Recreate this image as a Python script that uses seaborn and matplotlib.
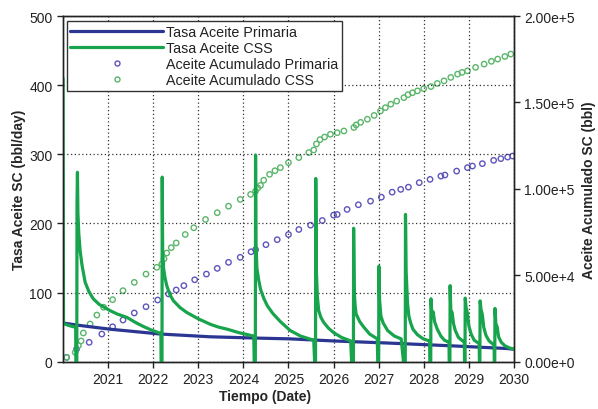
import numpy as np
import pandas as pd
import matplotlib
matplotlib.use("Agg")
import matplotlib.pyplot as plt
import matplotlib.ticker as ticker
from matplotlib.lines import Line2D
import seaborn as sns

# tasa de aceite, caso primario (bbl/day)
prim_t = [2020.0, 2020.3, 2021.04, 2022.16, 2023.27, 2024.38, 2025.04, 2026.0, 2027.2, 2028.6, 2029.86, 2030.0]
prim_q = [56, 53, 47, 40, 36, 34, 33, 30, 27, 23, 19, 18]

# tasa de aceite, caso CSS (bbl/day) -- un ciclo por linea
css_t = [2020.000, 2020.010, 2020.100, 2020.200, 2020.280, 2020.285, 2020.305, 2020.310, 2020.320,
         2020.330, 2020.350, 2020.380, 2020.420, 2020.490, 2020.570, 2020.670, 2020.800, 2021.040, 2021.200, 2021.420, 2021.600, 2021.780, 2021.950, 2022.120, 2022.170,
         2022.175, 2022.195, 2022.200, 2022.210, 2022.230, 2022.260, 2022.300, 2022.370, 2022.450, 2022.600, 2022.750, 2023.000, 2023.270, 2023.450, 2023.640, 2023.900, 2024.230,
         2024.240, 2024.265, 2024.270, 2024.280, 2024.300, 2024.340, 2024.380, 2024.450, 2024.530, 2024.650, 2024.820, 2025.040, 2025.270, 2025.560,
         2025.580, 2025.600, 2025.605, 2025.620, 2025.640, 2025.670, 2025.720, 2025.780, 2025.880, 2026.000, 2026.180, 2026.380,
         2026.400, 2026.440, 2026.445, 2026.460, 2026.480, 2026.500, 2026.580, 2026.670, 2026.800, 2026.970,
         2026.980, 2027.000, 2027.005, 2027.020, 2027.050, 2027.100, 2027.200, 2027.350, 2027.500,
         2027.550, 2027.590, 2027.595, 2027.610, 2027.640, 2027.670, 2027.710, 2027.760, 2027.860, 2027.990, 2028.130,
         2028.135, 2028.155, 2028.160, 2028.180, 2028.210, 2028.240, 2028.300, 2028.380, 2028.460, 2028.560,
         2028.565, 2028.580, 2028.585, 2028.600, 2028.630, 2028.660, 2028.700, 2028.770, 2028.900,
         2028.905, 2028.915, 2028.920, 2028.940, 2028.970, 2029.000, 2029.050, 2029.120, 2029.230,
         2029.235, 2029.245, 2029.250, 2029.270, 2029.300, 2029.330, 2029.380, 2029.450, 2029.560,
         2029.565, 2029.575, 2029.580, 2029.600, 2029.630, 2029.660, 2029.720, 2029.800, 2029.900, 2030.000]
css_q = [410, 55, 53, 51, 50, 0, 0, 230, 274,
         215, 185, 160, 140, 115, 102, 91, 83, 74, 69, 64, 57, 51, 46, 42, 41,
         0, 0, 267, 160, 135, 122, 110, 97, 88, 78, 71, 62, 54, 50, 47, 42, 37,
         0, 0, 299, 170, 135, 118, 105, 92, 81, 70, 58, 45, 37, 31,
         0, 0, 265, 130, 95, 74, 64, 57, 49, 42, 35, 30,
         0, 0, 193, 100, 80, 69, 58, 50, 40, 33,
         0, 0, 138, 90, 66, 56, 45, 37, 33,
         0, 0, 213, 130, 85, 66, 56, 47, 39, 33, 30,
         0, 0, 91, 69, 72, 58, 47, 37, 31, 28,
         0, 0, 110, 75, 71, 55, 45, 35, 28,
         0, 0, 92, 78, 70, 52, 40, 31, 26,
         0, 0, 88, 76, 68, 50, 38, 30, 24,
         0, 0, 77, 55, 50, 36, 28, 23, 20, 18]

# aceite acumulado, caso primario (bbl)
cum_prim_t = [2020.08, 2020.30, 2020.58, 2020.86, 2021.10, 2021.33, 2021.58, 2021.84, 2022.10, 2022.34,
              2022.51, 2022.68, 2022.92, 2023.18, 2023.42, 2023.67, 2023.93, 2024.17, 2024.27, 2024.50,
              2024.75, 2025.00, 2025.23, 2025.49, 2025.75, 2026.00, 2026.08, 2026.30, 2026.55, 2026.82,
              2027.06, 2027.30, 2027.49, 2027.66, 2027.90, 2028.14, 2028.38, 2028.47, 2028.73, 2028.97,
              2029.08, 2029.30, 2029.55, 2029.71, 2029.86, 2029.97]
cum_prim = [2.5e3, 7.3e3, 11.2e3, 16.0e3, 20.2e3, 24.1e3, 28.2e3, 31.8e3, 35.7e3, 39.2e3,
            41.5e3, 44.0e3, 47.4e3, 50.7e3, 54.0e3, 57.5e3, 60.4e3, 63.6e3, 64.8e3, 67.7e3,
            70.6e3, 73.6e3, 76.5e3, 79.0e3, 81.7e3, 84.8e3, 85.2e3, 88.1e3, 90.8e3, 92.9e3,
            95.2e3, 98.1e3, 99.7e3, 101.0e3, 103.6e3, 105.5e3, 107.4e3, 108.0e3, 110.3e3, 112.3e3,
            113.2e3, 114.6e3, 116.5e3, 117.5e3, 118.4e3, 119.0e3]

# aceite acumulado, caso CSS (bbl)
cum_css_t = [2020.08, 2020.27, 2020.34, 2020.40, 2020.45, 2020.60, 2020.75, 2020.90, 2021.10, 2021.33,
             2021.58, 2021.84, 2022.08, 2022.19, 2022.24, 2022.30, 2022.40, 2022.51, 2022.71, 2022.90,
             2023.16, 2023.42, 2023.67, 2023.93, 2024.16, 2024.27, 2024.32, 2024.38, 2024.45, 2024.58,
             2024.70, 2024.82, 2025.00, 2025.23, 2025.45, 2025.56, 2025.62, 2025.70, 2025.80, 2025.93,
             2026.08, 2026.23, 2026.45, 2026.50, 2026.60, 2026.75, 2026.90, 2027.04, 2027.15, 2027.27,
             2027.40, 2027.56, 2027.65, 2027.75, 2027.86, 2028.00, 2028.16, 2028.30, 2028.45, 2028.60,
             2028.75, 2028.85, 2028.97, 2029.15, 2029.34, 2029.50, 2029.64, 2029.80, 2029.93]
cum_css = [2.5e3, 5.4e3, 9.3e3, 12.0e3, 16.6e3, 21.8e3, 27.0e3, 31.5e3, 35.9e3, 41.1e3,
           45.9e3, 50.7e3, 54.6e3, 56.5e3, 59.5e3, 62.9e3, 66.0e3, 68.7e3, 73.6e3, 77.5e3,
           82.3e3, 86.2e3, 90.0e3, 93.9e3, 96.8e3, 98.7e3, 100.5e3, 102.0e3, 105.0e3, 108.4e3,
           110.5e3, 112.3e3, 115.2e3, 118.1e3, 121.0e3, 122.5e3, 126.0e3, 128.5e3, 130.0e3, 131.6e3,
           132.5e3, 133.5e3, 135.5e3, 137.0e3, 138.5e3, 140.3e3, 142.5e3, 145.1e3, 147.0e3, 149.0e3,
           150.8e3, 152.8e3, 154.5e3, 155.6e3, 156.7e3, 158.0e3, 159.2e3, 161.0e3, 162.5e3, 164.5e3,
           166.4e3, 167.4e3, 168.3e3, 170.3e3, 172.2e3, 173.8e3, 175.1e3, 176.6e3, 178.0e3]

year_ticks = [2021, 2022, 2023, 2024, 2025, 2026, 2027, 2028, 2029, 2030]

c_prim = "#2b3592"
c_css = "#17a44c"
c_mprim = "#5d55bd"
c_mcss = "#5ab66a"

sns.set_style("ticks")
plt.rcParams['font.family'] = ['Liberation Sans', 'DejaVu Sans']
plt.rcParams['text.color'] = '#222222'
plt.rcParams['xtick.color'] = '#222222'
plt.rcParams['ytick.color'] = '#222222'

fig = plt.figure(figsize=(5.98, 4.10), dpi=100)
ax = fig.add_axes([0.1054, 0.1154, 0.754, 0.843])
ax2 = ax.twinx()

df_prim = pd.DataFrame({"t": prim_t, "q": prim_q})
df_css = pd.DataFrame({"t": css_t, "q": css_q})
sns.lineplot(data=df_prim, x="t", y="q", ax=ax, color=c_prim, linewidth=2.3, sort=False, estimator=None)
sns.lineplot(data=df_css, x="t", y="q", ax=ax, color=c_css, linewidth=2.3, sort=False, estimator=None)

sns.scatterplot(x=cum_prim_t, y=cum_prim, ax=ax2, marker="o", s=15, facecolor="none",
                edgecolor=c_mprim, linewidth=1.0)
sns.scatterplot(x=cum_css_t, y=cum_css, ax=ax2, marker="o", s=15, facecolor="none",
                edgecolor=c_mcss, linewidth=1.0)

ax.set_zorder(ax2.get_zorder() + 1)
ax.patch.set_visible(False)

ax.set_xlim(2020, 2030)
ax.set_ylim(0, 500)
ax2.set_ylim(0, 2.0e5)
ax.set_xticks(year_ticks)
ax.set_xticklabels([str(y) for y in year_ticks])
ax.set_yticks([0, 100, 200, 300, 400, 500])
ax2.set_yticks([0, 5e4, 1e5, 1.5e5, 2e5])

def sci_fmt(v, pos):
    if v == 0:
        return "0.00e+0"
    e = int(np.floor(np.log10(abs(v))))
    return "%.2fe+%d" % (v / 10 ** e, e)

ax2.yaxis.set_major_formatter(ticker.FuncFormatter(sci_fmt))

ax.grid(True, which="major", color="#333333", linestyle=(0, (1, 2)), linewidth=0.9)
ax2.grid(False)

for a in (ax, ax2):
    a.tick_params(labelsize=10, length=4, width=1, direction="out")
    for s in a.spines.values():
        s.set_color("#222222")
        s.set_linewidth(1.0)
        s.set_visible(True)

ax.set_xlabel("Tiempo (Date)", fontsize=10, fontweight="bold")
ax.xaxis.set_label_coords(0.448, -0.08)
ax.set_ylabel("Tasa Aceite SC (bbl/day)", fontsize=10, fontweight="bold", labelpad=2)
ax2.set_ylabel("Aceite Acumulado SC (bbl)", fontsize=10, fontweight="bold", labelpad=5)

handles = [
    Line2D([], [], color=c_prim, linewidth=2.3),
    Line2D([], [], color=c_css, linewidth=2.3),
    Line2D([], [], color=c_mprim, marker="o", linestyle="none", markersize=3.6,
           markerfacecolor="none", markeredgewidth=1.0),
    Line2D([], [], color=c_mcss, marker="o", linestyle="none", markersize=3.6,
           markerfacecolor="none", markeredgewidth=1.0),
]
labels = ["Tasa Aceite Primaria", "Tasa Aceite CSS", "Aceite Acumulado Primaria", "Aceite Acumulado CSS"]
leg = ax.legend(handles, labels, loc="upper left", bbox_to_anchor=(0.008, 0.985), fontsize=10.3,
                handlelength=6.5, handletextpad=0.2, labelspacing=0.15, borderpad=0.25,
                borderaxespad=0, fancybox=False, framealpha=1, edgecolor="#333333")
leg.get_frame().set_linewidth(1.0)

fig.savefig("out.png", dpi=100)
